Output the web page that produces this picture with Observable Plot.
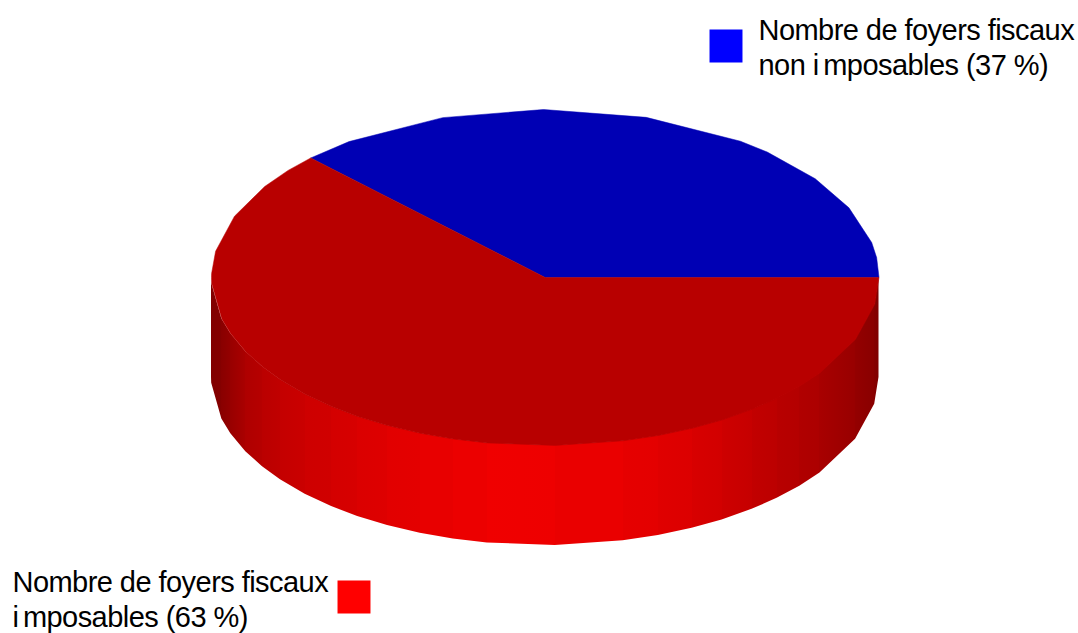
<!DOCTYPE html>
<html lang="fr">
<head>
<meta charset="utf-8">
<style>html,body{margin:0;padding:0;background:#fff;overflow:hidden}svg{display:block}</style>
<script src="https://cdn.jsdelivr.net/npm/d3@7"></script>
<script src="https://cdn.jsdelivr.net/npm/@observablehq/plot@0.6"></script>
</head>
<body>
<div id="chart"></div>
<script>
// Chart values: slice shares as measured on the picture (the legend rounds them to 37 and 63)
const categories = ["non imposables", "imposables"];
const shares = [37.4, 62.6];
const topColors = ["#0000b4", "#b80000"];
const legendColors = ["#0000ff", "#ff0000"];
const legendLines = [
  ["Nombre de foyers fiscaux", "non imposables (37 %)"],
  ["Nombre de foyers fiscaux", "imposables (63 %)"]
];

// Facet corners of the faceted 3D disc, in degrees anticlockwise from the right
const backRimAngles = [0, 6.8, 12, 24.5, 36, 48.3, 54.2, 72.4, 90.3, 107.9, 126, 140.4, 147.2, 158.6, 171, 178.6];
const frontRimAngles = [180, 182, 194.3, 199.6, 206.2, 212.1, 217.5, 224, 230.2, 235.8, 241.8, 248, 254, 260, 271.7, 283.5, 289.8, 296.1, 302, 308.3, 314, 319.7, 325.4, 338.4, 350.8, 360];
// Red shade of the wall at each front corner (0-255)
const wallShade = [125, 127, 135, 150, 172, 184, 194, 204, 210, 217, 224, 230, 234, 238, 236, 232, 226, 218, 208, 196, 186, 178, 170, 150, 135, 125];

// Disc placement in the picture
const cx = 544.75, cy = 277, rx = 333.75, ry = 168, depth = 100;
const px = a => cx + rx * Math.cos(a * Math.PI / 180);
const py = a => cy - ry * Math.sin(a * Math.PI / 180);

const allAngles = [...backRimAngles, ...frontRimAngles];
let start = 0;
const slices = shares.map((s, i) => {
  const end = start + s * 3.6;
  const inner = allAngles.filter(a => a > start && a < end);
  const pts = [start, ...inner, end].map(a => ({x: px(a), y: py(a)}));
  pts.unshift({x: cx, y: cy});
  pts.push({x: cx, y: cy});
  start = end;
  return pts;
});

const wall = frontRimAngles.map((a, i) => ({x: px(a), y1: py(a), y2: py(a) + depth, shade: wallShade[i]}));
const xMin = d3.min(wall, d => d.x), xMax = d3.max(wall, d => d.x);

const wallGradient = () => {
  const g = d3.create("svg:linearGradient").attr("id", "wall").attr("x1", 0).attr("x2", 1).attr("y1", 0).attr("y2", 0);
  [...wall].sort((a, b) => a.x - b.x).forEach(d => {
    const step = d.x < cx ? 2 : -2;
    const o = (d.x - xMin) / (xMax - xMin);
    g.append("stop").attr("offset", o).attr("stop-color", `rgb(${d.shade - step},0,0)`);
    g.append("stop").attr("offset", o).attr("stop-color", `rgb(${d.shade + step},0,0)`);
  });
  const defs = d3.create("svg:defs");
  defs.append(() => g.node());
  return defs.node();
};

const swatches = [{x: 725.5, y: 45.5, c: legendColors[0]}, {x: 353.5, y: 596.5, c: legendColors[1]}];
const labelAnchors = [{x: 758, y: 39.5}, {x: 12, y: 591.5}];
const labels = legendLines.flatMap((lines, i) => lines.map((t, j) => ({
  t, x: labelAnchors[i].x, y: labelAnchors[i].y + j * 35
})));

const chart = Plot.plot({
  width: 1078,
  height: 633,
  margin: 0,
  x: {domain: [0, 1078], range: [0, 1078], axis: null},
  y: {domain: [0, 633], range: [0, 633], axis: null},
  marks: [
    wallGradient,
    Plot.area(wall, {x1: "x", y1: "y1", x2: "x", y2: "y2", fill: "url(#wall)"}),
    ...slices.map((pts, i) => Plot.line(pts, {x: "x", y: "y", fill: topColors[i], stroke: topColors[i], strokeWidth: 0.5, curve: "linear"})),
    Plot.dot(swatches, {x: "x", y: "y", symbol: "square", r: 18.6, fill: "c", stroke: "none"}),
    Plot.text(labels, {
      x: "x", y: "y", text: "t", textAnchor: "start", lineAnchor: "bottom", dy: 0,
      fontFamily: "Liberation Sans, Arial, sans-serif", fontSize: 29, fill: "#000"
    })
  ]
});
chart.style.background = "#fff";
chart.querySelectorAll("text").forEach(t => {
  t.style.letterSpacing = "-0.55px";
  const k = t.textContent.indexOf("mposables");
  if (k >= 0) t.setAttribute("dx", [...Array(k).fill(0), 4.5].join(" "));
});
document.getElementById("chart").append(chart);
</script>
</body>
</html>
